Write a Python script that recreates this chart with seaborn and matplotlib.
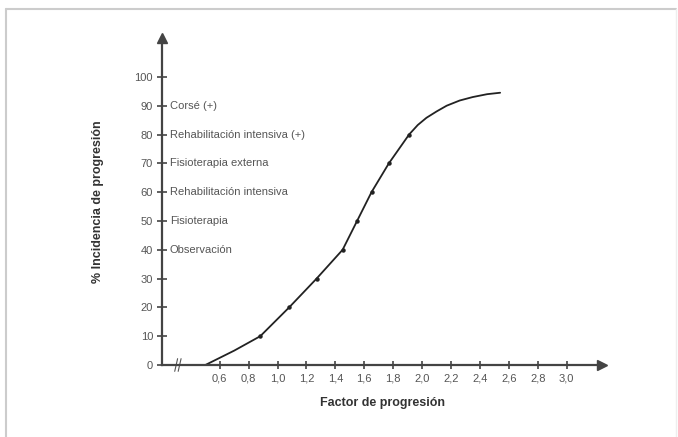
import numpy as np
import pandas as pd
import matplotlib
matplotlib.use("Agg")
import matplotlib.pyplot as plt
import seaborn as sns

# puntos
factor = [0.50, 0.70, 0.88, 1.08, 1.27, 1.45, 1.55, 1.65, 1.77, 1.91, 1.97, 2.03, 2.10, 2.17, 2.26, 2.35, 2.45, 2.54]
incidencia = [0, 5, 10, 20, 30, 40, 50, 60, 70, 80, 83.3, 85.8, 88.0, 90, 91.8, 93, 94, 94.5]
marcados = [2, 3, 4, 5, 6, 7, 8, 9]  # indices con punto

x_ticks = [0.6, 0.8, 1.0, 1.2, 1.4, 1.6, 1.8, 2.0, 2.2, 2.4, 2.6, 2.8, 3.0]
x_labels = ["0,6", "0,8", "1,0", "1,2", "1,4", "1,6", "1,8", "2,0", "2,2", "2,4", "2,6", "2,8", "3,0"]
y_ticks = [0, 10, 20, 30, 40, 50, 60, 70, 80, 90, 100]

tratamientos = ["Corsé (+)", "Rehabilitación intensiva (+)", "Fisioterapia externa",
                "Rehabilitación intensiva", "Fisioterapia", "Observación"]
tratamiento_y = [90, 80, 70, 60, 50, 40]

sns.set_theme(style="white")
plt.rcParams['font.family'] = ['Liberation Sans', 'DejaVu Sans']

df = pd.DataFrame({"factor": factor, "incidencia": incidencia})

fig = plt.figure(figsize=(6.78, 4.37), dpi=100)
ax = fig.add_axes([162 / 678, 1 - 365 / 437, 440 / 678, 327 / 437])

sns.lineplot(data=df, x="factor", y="incidencia", ax=ax, color="#222222", lw=1.3, sort=False)
pts = df.iloc[marcados]
ax.plot(pts["factor"], pts["incidencia"], "o", color="#222222", ms=2.2)

ax.set_xlim(0.2, 3.245)
ax.set_ylim(0, 113.5)

for s in ["top", "right"]:
    ax.spines[s].set_visible(False)
for s in ["left", "bottom"]:
    ax.spines[s].set_color("#444444")
    ax.spines[s].set_linewidth(1.6)

# flechas de los ejes
ax.plot(1, 0, ">", transform=ax.transAxes, color="#444444", ms=7, clip_on=False)
ax.plot(0, 1, "^", transform=ax.transAxes, color="#444444", ms=7, clip_on=False)

ax.set_xticks(x_ticks)
ax.set_xticklabels(x_labels)
ax.set_yticks(y_ticks)
ax.tick_params(axis="both", bottom=True, left=True, direction="inout", length=7, width=1.2,
               color="#444444", labelsize=8, labelcolor="#555555", pad=3)
ax.tick_params(axis="x", length=6)

# corte del eje x
for dx in [-0.012, 0.012]:
    ax.plot([0.31 + dx - 0.01, 0.31 + dx + 0.01], [-2.2, 2.2], color="#555555", lw=0.8, clip_on=False)

for t, yv in zip(tratamientos, tratamiento_y):
    ax.text(0.255, yv, t, fontsize=8, color="#555555", va="center", ha="left")

ax.set_xlabel("Factor de progresión", fontsize=9, fontweight="bold", color="#333333", labelpad=10)
ax.set_ylabel("% Incidencia de progresión", fontsize=9, fontweight="bold", color="#333333", labelpad=22)

# marco gris de la imagen
fig.add_artist(plt.Line2D([6 / 678, 676 / 678], [1 - 9 / 437, 1 - 9 / 437], color="#cccccc", lw=1.5))
fig.add_artist(plt.Line2D([6 / 678, 6 / 678], [0, 1 - 9 / 437], color="#cccccc", lw=1.5))
fig.add_artist(plt.Line2D([676 / 678, 676 / 678], [0, 1 - 9 / 437], color="#eeeeee", lw=1))

fig.savefig("out.png", dpi=100)
